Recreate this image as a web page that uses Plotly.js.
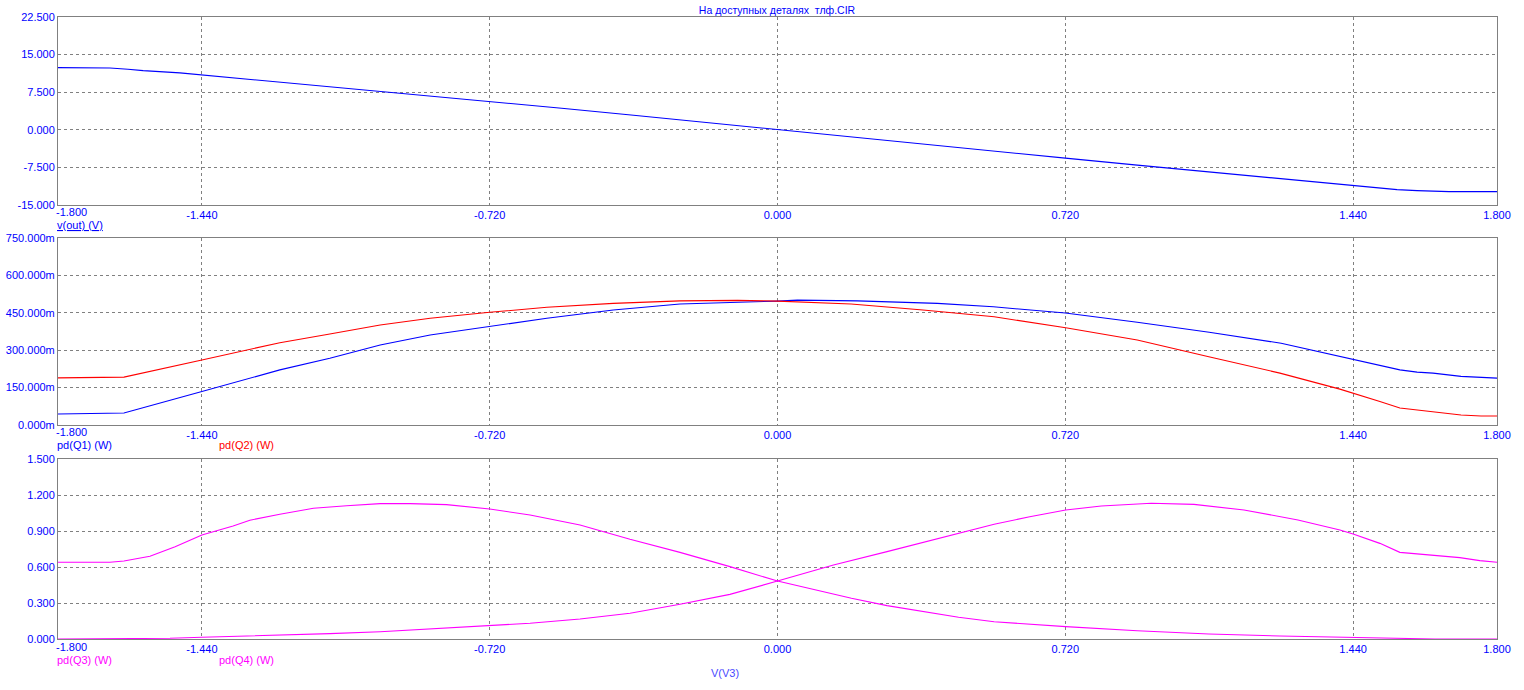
<!DOCTYPE html>
<html>
<head>
<meta charset="utf-8">
<script src="https://cdn.plot.ly/plotly-3.0.1.min.js"></script>
<style>html,body{margin:0;padding:0;background:#fff;}#chart{width:1524px;height:690px;}</style>
</head>
<body>
<div id="chart"></div>
<script>
// ---------- DATA ----------
const chartTitle = "На доступных деталях  тлф.CIR";
const xTitle = "V(V3)";
const xTickVals = [-1.8, -1.44, -0.72, 0, 0.72, 1.44, 1.8];
const xTickText = ["", "-1.440", "-0.720", "0.000", "0.720", "1.440", "1.800"];
const xLeftLabel = "-1.800";

// Panel 1: v(out) (V)
const vout_x = [-1.8, -1.67, -1.625, -1.587, -1.495, -1.44, -1.33, -1.195, -1.08, -0.9, -0.72, -0.54, -0.36, -0.18, 0, 0.18, 0.36, 0.54, 0.72, 0.9, 1.08, 1.26, 1.44, 1.55, 1.6, 1.68, 1.8];
const vout_y = [12.4, 12.33, 12.07, 11.8, 11.35, 10.95, 10.1, 9.1, 8.3, 7.0, 5.7, 4.3, 2.9, 1.45, 0, -1.45, -2.9, -4.3, -5.65, -7.05, -8.4, -9.8, -11.07, -11.93, -12.13, -12.33, -12.33];
const p1TickVals = [-15, -7.5, 0, 7.5, 15, 22.5];
const p1TickText = ["-15.000", "-7.500", "0.000", "7.500", "15.000", "22.500"];

// Panel 2: pd(Q1), pd(Q2) (W)
const q1_x = [-1.8, -1.67, -1.635, -1.44, -1.245, -1.12, -0.994, -0.869, -0.72, -0.577, -0.411, -0.244, 0, 0.05, 0.2, 0.32, 0.4, 0.54, 0.72, 0.9, 1.08, 1.26, 1.44, 1.557, 1.6, 1.64, 1.71, 1.76, 1.8];
const q1_y = [0.044, 0.045, 0.048, 0.134, 0.221, 0.268, 0.321, 0.361, 0.394, 0.428, 0.461, 0.485, 0.497, 0.501, 0.498, 0.493, 0.488, 0.474, 0.449, 0.412, 0.372, 0.328, 0.262, 0.221, 0.212, 0.208, 0.195, 0.190, 0.188];
const q2_x = [-1.8, -1.67, -1.635, -1.44, -1.245, -1.12, -0.994, -0.869, -0.72, -0.577, -0.411, -0.244, -0.1, 0, 0.184, 0.364, 0.542, 0.721, 0.9, 1.079, 1.257, 1.407, 1.44, 1.507, 1.557, 1.6, 1.64, 1.71, 1.76, 1.8];
const q2_y = [0.189, 0.189, 0.192, 0.261, 0.330, 0.365, 0.401, 0.428, 0.452, 0.472, 0.488, 0.498, 0.500, 0.497, 0.485, 0.461, 0.434, 0.390, 0.341, 0.274, 0.208, 0.144, 0.128, 0.094, 0.068, 0.060, 0.052, 0.040, 0.036, 0.036];
const p2TickVals = [0, 0.15, 0.3, 0.45, 0.6, 0.75];
const p2TickText = ["0.000m", "150.000m", "300.000m", "450.000m", "600.000m", "750.000m"];

// Panel 3: pd(Q3), pd(Q4) (W)
const q3_x = [-1.8, -1.67, -1.635, -1.57, -1.507, -1.44, -1.362, -1.32, -1.245, -1.161, -1.078, -0.994, -0.919, -0.828, -0.72, -0.619, -0.494, -0.369, -0.244, -0.119, 0, 0.096, 0.185, 0.274, 0.364, 0.453, 0.542, 0.721, 0.9, 1.079, 1.257, 1.407, 1.46, 1.62, 1.645, 1.8];
const q3_y = [0.639, 0.639, 0.65, 0.69, 0.769, 0.867, 0.942, 0.99, 1.039, 1.089, 1.111, 1.128, 1.128, 1.12, 1.083, 1.033, 0.95, 0.831, 0.722, 0.603, 0.483, 0.408, 0.339, 0.278, 0.228, 0.181, 0.144, 0.103, 0.069, 0.042, 0.025, 0.014, 0.011, 0.003, 0, 0];
const q4_x = [-1.8, -1.56, -1.52, -1.44, -1.32, -1.245, -1.12, -0.994, -0.869, -0.72, -0.619, -0.494, -0.369, -0.244, -0.119, 0, 0.14, 0.274, 0.408, 0.542, 0.631, 0.721, 0.81, 0.935, 1.042, 1.167, 1.302, 1.407, 1.44, 1.507, 1.557, 1.632, 1.707, 1.757, 1.8];
const q4_y = [0, 0, 0.006, 0.014, 0.024, 0.031, 0.045, 0.061, 0.083, 0.108, 0.131, 0.167, 0.214, 0.289, 0.372, 0.483, 0.617, 0.728, 0.839, 0.956, 1.019, 1.075, 1.108, 1.131, 1.122, 1.075, 0.992, 0.908, 0.875, 0.797, 0.722, 0.70, 0.678, 0.653, 0.639];
const p3TickVals = [0, 0.3, 0.6, 0.9, 1.2, 1.5];
const p3TickText = ["0.000", "0.300", "0.600", "0.900", "1.200", "1.500"];

// ---------- STYLE ----------
const BLUE = "#0000ff", RED = "#ff0000", MAG = "#ff00ff", GRID = "#808080";
const FONT = "Liberation Sans, Arial, sans-serif";
const W = 1524, H = 690, ML = 58, MR = 27, MT = 17, MB = 51;
const plotH = H - MT - MB;
function dom(topPx, botPx) { return [(H - MB - botPx) / plotH, (H - MB - topPx) / plotH]; }
function py(pxY) { return (H - MB - pxY) / plotH; }
function px(pxX) { return (pxX - ML) / (W - ML - MR); }

function xAxis(anchor) {
  return {
    anchor: anchor, range: [-1.8, 1.8], tickmode: "array", tickvals: xTickVals, ticktext: xTickText,
    showgrid: true, gridcolor: GRID, griddash: "3px,3px", gridwidth: 1, zeroline: false,
    showline: true, mirror: true, linecolor: GRID, linewidth: 1, ticks: "", ticklen: 0,
    tickfont: {family: FONT, size: 11, color: BLUE}, fixedrange: true
  };
}
function yAxis(anchor, domain, range, tv, tt) {
  return {
    anchor: anchor, domain: domain, range: range, tickmode: "array", tickvals: tv, ticktext: tt,
    showgrid: true, gridcolor: GRID, griddash: "3px,3px", gridwidth: 1, zeroline: false,
    showline: true, mirror: true, linecolor: GRID, linewidth: 1, ticks: "", ticklen: 0,
    tickfont: {family: FONT, size: 11, color: BLUE}, fixedrange: true
  };
}
const ln = (c) => ({color: c, width: 1.1});
const traces = [
  {x: vout_x, y: vout_y, xaxis: "x", yaxis: "y", mode: "lines", line: ln(BLUE), name: "v(out) (V)"},
  {x: q1_x, y: q1_y, xaxis: "x2", yaxis: "y2", mode: "lines", line: ln(BLUE), name: "pd(Q1) (W)"},
  {x: q2_x, y: q2_y, xaxis: "x2", yaxis: "y2", mode: "lines", line: ln(RED), name: "pd(Q2) (W)"},
  {x: q3_x, y: q3_y, xaxis: "x3", yaxis: "y3", mode: "lines", line: ln(MAG), name: "pd(Q3) (W)"},
  {x: q4_x, y: q4_y, xaxis: "x3", yaxis: "y3", mode: "lines", line: ln(MAG), name: "pd(Q4) (W)"}
];

function ann(text, x, y, color, xanchor, extra) {
  return Object.assign({text: text, x: x, y: y, xref: "paper", yref: "paper", xanchor: xanchor, yanchor: "middle",
    showarrow: false, font: {family: FONT, size: 11, color: color}}, extra || {});
}
const annotations = [
  ann("<u>v(out) (V)</u>", 0, py(225), BLUE, "left", {xshift: -3}),
  ann("pd(Q1) (W)", 0, py(445), BLUE, "left", {xshift: -3}),
  ann("pd(Q2) (W)", px(220), py(445), RED, "left", {xshift: -3}),
  ann("pd(Q3) (W)", 0, py(660), MAG, "left", {xshift: -3}),
  ann("pd(Q4) (W)", px(220), py(660), MAG, "left", {xshift: -3}),
  ann(xTitle, px(725), py(673), "#4a4aff", "center"),
  ann(xLeftLabel, 0, py(212), BLUE, "left", {xshift: -4}),
  ann(xLeftLabel, 0, py(432), BLUE, "left", {xshift: -4}),
  ann(xLeftLabel, 0, py(647), BLUE, "left", {xshift: -4})
];

const layout = {
  width: W, height: H, margin: {l: ML, r: MR, t: MT, b: MB, pad: 0},
  paper_bgcolor: "#ffffff", plot_bgcolor: "#ffffff", showlegend: false,
  title: {text: chartTitle, font: {family: FONT, size: 10.5, color: BLUE}, x: px(777), xref: "paper", xanchor: "center",
          y: 1 - 10 / H, yref: "container", yanchor: "middle"},
  xaxis: xAxis("y"), xaxis2: xAxis("y2"), xaxis3: xAxis("y3"),
  yaxis: yAxis("x", dom(17, 205), [-15, 22.5], p1TickVals, p1TickText),
  yaxis2: yAxis("x2", dom(238, 425), [0, 0.75], p2TickVals, p2TickText),
  yaxis3: yAxis("x3", dom(459, 639), [0, 1.5], p3TickVals, p3TickText),
  annotations: annotations,
  hovermode: false
};
Plotly.newPlot("chart", traces, layout, {staticPlot: true, displayModeBar: false});
</script>
</body>
</html>
